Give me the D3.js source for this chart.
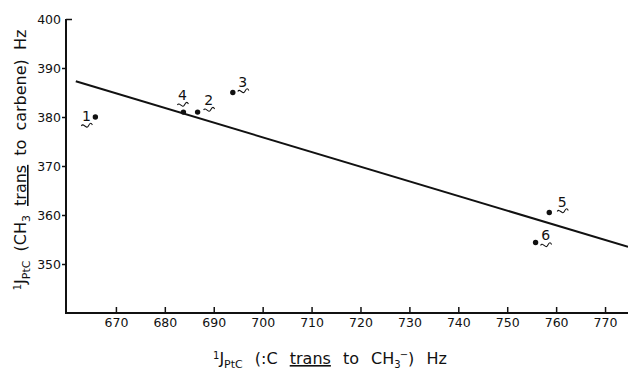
<!DOCTYPE html>
<html><head><meta charset="utf-8">
<script src="https://cdn.jsdelivr.net/npm/d3@7"></script>
<style>
body{margin:0;background:#fff;}
svg{display:block;}
text{font-family:"DejaVu Sans",sans-serif;fill:#111;}
</style></head>
<body>
<svg id="c" width="628" height="373"></svg>
<script>
const ids = ["1","2","3","4","5","6"];
const xVals = [665.8, 686.7, 693.9, 683.8, 758.6, 755.8];
const yVals = [380, 381, 385, 381, 360.5, 354.4];
const fitX = [661.8, 774.7];
const fitY = [387.3, 353.5];
const xTicks = [670,680,690,700,710,720,730,740,750,760,770];
const yTicks = [350,360,370,380,390,400];
// label offsets (px) relative to point: [dx, dy]
const labelOffsets = [[-9,4],[11,-7],[10,-6],[-1,-12],[13,-6],[10,-2]];

const svg = d3.select("#c");
const x = d3.scaleLinear().domain([660,775]).range([67,629.5]);
const y = d3.scaleLinear().domain([340,400]).range([313,19]);

// x axis
const gx = svg.append("g").attr("transform","translate(0,313)")
  .call(d3.axisBottom(x).tickValues(xTicks).tickSize(-6).tickSizeOuter(0).tickPadding(5));
gx.select(".domain").attr("stroke","#111").attr("stroke-width",2).attr("d","M66,0H628");
gx.selectAll(".tick line").attr("stroke","#111").attr("stroke-width",1.5);
gx.selectAll(".tick text").attr("font-size",12.5).attr("font-family","DejaVu Sans");

// y axis
const gy = svg.append("g").attr("transform","translate(66,0)")
  .call(d3.axisLeft(y).tickValues(yTicks).tickSize(4).tickSizeOuter(0).tickPadding(5));
gy.select(".domain").attr("stroke","#111").attr("stroke-width",2).attr("d","M0,"+y(400)+"V314");
gy.selectAll(".tick line").attr("stroke","#111").attr("stroke-width",1.5)
  .attr("x2", d => d===400 ? 6 : -4);
gy.selectAll(".tick text").attr("font-size",12.5).attr("font-family","DejaVu Sans")
  .attr("x", -5);

// fit line
svg.append("line")
  .attr("x1",x(fitX[0])).attr("y1",y(fitY[0]))
  .attr("x2",x(fitX[1])).attr("y2",y(fitY[1]))
  .attr("stroke","#111").attr("stroke-width",2);

// points
const pts = ids.map((id,i)=>({id, xv:xVals[i], yv:yVals[i], off:labelOffsets[i]}));
svg.selectAll("circle.pt").data(pts).join("circle").attr("class","pt")
  .attr("cx",d=>x(d.xv)).attr("cy",d=>y(d.yv)).attr("r",2.7).attr("fill","#111");

const lab = svg.selectAll("g.lab").data(pts).join("g").attr("class","lab")
  .attr("transform",d=>`translate(${x(d.xv)+d.off[0]},${y(d.yv)+d.off[1]})`);
lab.append("text").attr("text-anchor","middle").attr("font-size",14).text(d=>d.id);
lab.append("path").attr("d","M-5,5 C-3,1 0,9 2,5 S5,2 6,4")
  .attr("fill","none").attr("stroke","#111").attr("stroke-width",1.1);

// y title
const yt = svg.append("text")
  .attr("transform","translate(26,160) rotate(-90)")
  .attr("text-anchor","middle").attr("font-size",16).attr("word-spacing",4);
yt.append("tspan").attr("font-size",10).attr("dy",-5).text("1");
yt.append("tspan").attr("dy",5).text("J");
yt.append("tspan").attr("font-size",11).attr("dy",4).text("PtC");
yt.append("tspan").attr("dy",-4).text(" (CH");
yt.append("tspan").attr("font-size",11).attr("dy",4).text("3");
yt.append("tspan").attr("dy",-4).text(" ");
yt.append("tspan").attr("text-decoration","underline").text("trans");
yt.append("tspan").text(" to carbene) Hz");

// x title
const xt = svg.append("text").attr("x",213).attr("y",364).attr("font-size",16).attr("word-spacing",7);
xt.append("tspan").attr("font-size",10).attr("dy",-5).text("1");
xt.append("tspan").attr("dy",5).text("J");
xt.append("tspan").attr("font-size",11).attr("dy",4).text("PtC");
xt.append("tspan").attr("dy",-4).text("  (:C ");
xt.append("tspan").attr("text-decoration","underline").text("trans");
xt.append("tspan").text(" to CH");
xt.append("tspan").attr("font-size",10).attr("dy",4).text("3");
xt.append("tspan").attr("font-size",10).attr("dy",-10).attr("dx",-1).text("\u2212");
xt.append("tspan").attr("dy",6).text(") Hz");
</script>
</body></html>
